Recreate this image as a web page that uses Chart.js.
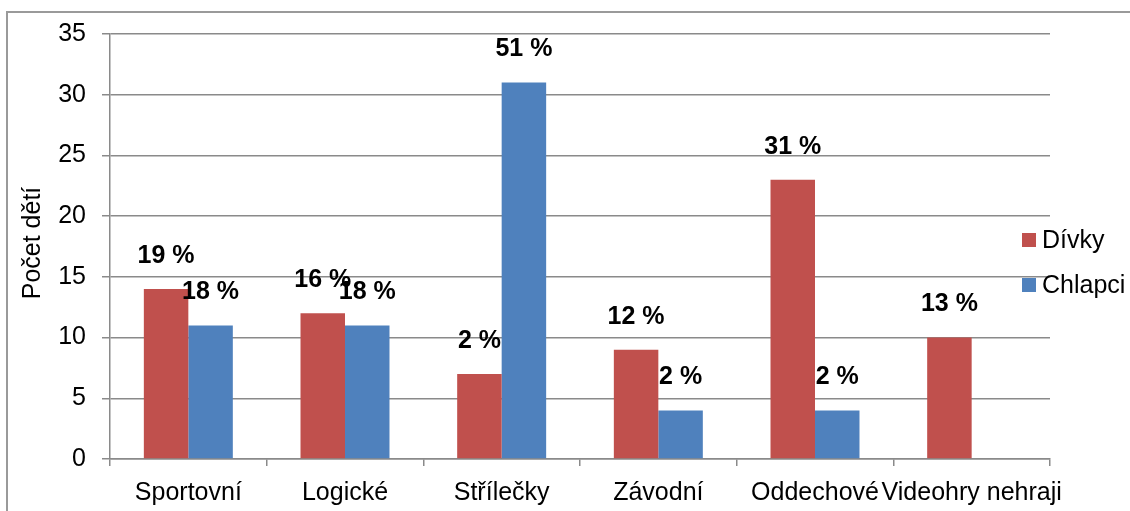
<!DOCTYPE html>
<html>
<head>
<meta charset="utf-8">
<script src="https://cdn.jsdelivr.net/npm/chart.js@4/dist/chart.umd.min.js"></script>
<style>
    html, body { margin: 0; padding: 0; background: #fff; }
    #wrap { position: relative; width: 1130px; height: 511px; }
</style>
</head>
<body>
<div id="wrap"><canvas id="chart"></canvas></div>
<script>
// ── Data ─────────────────────────────────────────────────────
const categories = ['Sportovní', 'Logické', 'Střílečky', 'Závodní', 'Oddechové', 'Videohry nehraji'];
const divky      = [14, 12, 7, 9, 23, 10];
const chlapci    = [11, 11, 31, 4, 4, null];
const divkyPct   = ['19 %', '16 %', '2 %', '12 %', '31 %', '13 %'];
const chlapciPct = ['18 %', '18 %', '51 %', '2 %', '2 %', null];
const yMin = 0, yMax = 35, yStep = 5;
const yTitle = 'Počet dětí';

const RED   = '#C0504D';
const BLUE  = '#4F81BD';
const GRID  = '#8a8a8a';
const FONT  = '"Liberation Sans", Arial, sans-serif';

// frame + y title + legend + percent labels
const decor = {
    id: 'decor',
    beforeDraw(chart) {
        const ctx = chart.ctx;
        ctx.save();
        ctx.strokeStyle = '#9a9a9a';
        ctx.lineWidth = 2;
        ctx.beginPath();
        ctx.moveTo(7, 511);
        ctx.lineTo(7, 12);
        ctx.lineTo(1130, 12);
        ctx.stroke();
        ctx.restore();
    },
    afterDatasetsDraw(chart) {
        const ctx = chart.ctx;
        const pcts = [divkyPct, chlapciPct];
        ctx.save();
        ctx.fillStyle = '#000';
        ctx.font = 'bold 25px ' + FONT;
        ctx.textAlign = 'center';
        ctx.textBaseline = 'middle';
        chart.data.datasets.forEach((ds, di) => {
            chart.getDatasetMeta(di).data.forEach((bar, i) => {
                const txt = pcts[di][i];
                if (txt == null || ds.data[i] == null) return;
                ctx.fillText(txt, bar.x, bar.y - 33);
            });
        });

        // y axis title
        ctx.font = '25px ' + FONT;
        ctx.translate(33, 243);
        ctx.rotate(-Math.PI / 2);
        ctx.fillText(yTitle, 0, 0);
        ctx.restore();

        // legend
        ctx.save();
        ctx.font = '25px ' + FONT;
        ctx.textAlign = 'left';
        ctx.textBaseline = 'middle';
        chart.data.datasets.forEach((ds, di) => {
            const cy = 240 + di * 45;
            ctx.fillStyle = ds.backgroundColor;
            ctx.fillRect(1022, cy - 7, 14, 14);
            ctx.fillStyle = '#000';
            ctx.fillText(ds.label, 1042, cy + 1);
        });
        ctx.restore();
    }
};

new Chart(document.getElementById('chart').getContext('2d'), {
    type: 'bar',
    data: {
        labels: categories,
        datasets: [
            { label: 'Dívky',   data: divky,   backgroundColor: RED,  categoryPercentage: 0.568, barPercentage: 1.0 },
            { label: 'Chlapci', data: chlapci, backgroundColor: BLUE, categoryPercentage: 0.568, barPercentage: 1.0 }
        ]
    },
    options: {
        responsive: true,
        maintainAspectRatio: false,
        animation: false,
        layout: { padding: { top: 34, right: 80, bottom: 0, left: 0 } },
        plugins: {
            legend: { display: false },
            tooltip: { enabled: false }
        },
        scales: {
            x: {
                afterFit: (s) => { s.height = 52; },
                grid: { drawOnChartArea: false, drawTicks: true, tickLength: 7, color: GRID, lineWidth: 1.5 },
                border: { display: true, color: GRID, width: 1.5 },
                ticks: {
                    autoSkip: false, maxRotation: 0, minRotation: 0, padding: 12,
                    color: '#000', font: { family: FONT, size: 25 }
                }
            },
            y: {
                min: yMin, max: yMax,
                afterFit: (s) => { s.width = 110; },
                grid: { color: GRID, lineWidth: 1.5, tickLength: 8 },
                border: { display: true, color: GRID, width: 1.5 },
                ticks: {
                    stepSize: yStep, padding: 16,
                    color: '#000', font: { family: FONT, size: 25 }
                }
            }
        }
    },
    plugins: [decor]
});
</script>
</body>
</html>
